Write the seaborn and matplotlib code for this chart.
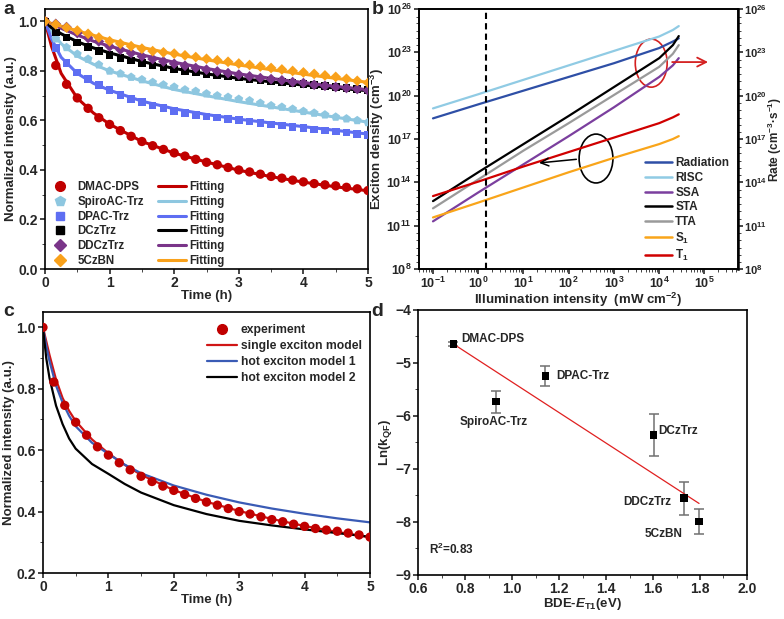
import numpy as np
import matplotlib.pyplot as plt
import seaborn as sns
from matplotlib.lines import Line2D
from matplotlib.patches import Ellipse
from matplotlib.ticker import MultipleLocator, LogLocator, FixedLocator, NullFormatter

# ---------------- panel a: normalized intensity vs time ----------------
time_pts = np.arange(31) / 6
dmac = [1.0, 0.822, 0.746, 0.691, 0.649, 0.611, 0.584, 0.559, 0.536, 0.515, 0.498,
        0.483, 0.469, 0.456, 0.443, 0.431, 0.421, 0.410, 0.400, 0.392, 0.383,
        0.374, 0.367, 0.359, 0.352, 0.345, 0.340, 0.336, 0.330, 0.324, 0.317]
spiro = [1.0, 0.93, 0.895, 0.868, 0.848, 0.825, 0.80, 0.789, 0.775, 0.765, 0.754,
         0.744, 0.735, 0.724, 0.718, 0.708, 0.70, 0.694, 0.686, 0.68, 0.67,
         0.66, 0.654, 0.646, 0.637, 0.63, 0.623, 0.614, 0.607, 0.60, 0.592]
dpac = [1.0, 0.892, 0.832, 0.794, 0.767, 0.744, 0.724, 0.704, 0.686, 0.674, 0.66,
        0.65, 0.639, 0.63, 0.623, 0.616, 0.612, 0.606, 0.603, 0.596, 0.59,
        0.583, 0.579, 0.573, 0.569, 0.563, 0.559, 0.556, 0.552, 0.546, 0.542]
dcz = [1.0, 0.955, 0.935, 0.915, 0.897, 0.88, 0.865, 0.853, 0.842, 0.832, 0.822,
       0.814, 0.806, 0.80, 0.795, 0.788, 0.783, 0.778, 0.773, 0.768, 0.763,
       0.759, 0.755, 0.751, 0.747, 0.743, 0.739, 0.735, 0.731, 0.727, 0.722]
ddcz = [1.0, 0.99, 0.977, 0.953, 0.933, 0.919, 0.899, 0.886, 0.872, 0.859, 0.848,
        0.838, 0.829, 0.821, 0.812, 0.805, 0.798, 0.791, 0.785, 0.778, 0.771,
        0.767, 0.762, 0.755, 0.751, 0.744, 0.74, 0.735, 0.731, 0.727, 0.721]
czbn = [1.0, 0.988, 0.975, 0.963, 0.95, 0.935, 0.92, 0.91, 0.90, 0.89, 0.88,
        0.875, 0.87, 0.863, 0.856, 0.849, 0.843, 0.837, 0.83, 0.824, 0.818,
        0.812, 0.806, 0.80, 0.794, 0.788, 0.782, 0.776, 0.768, 0.76, 0.752]

fit_t = [0, 0.1, 0.25, 0.5, 0.75, 1, 1.5, 2, 2.5, 3, 3.5, 4, 4.5, 5]
fit_dmac = [1.0, 0.90, 0.79, 0.69, 0.63, 0.585, 0.515, 0.468, 0.432, 0.399, 0.373, 0.351, 0.332, 0.316]
fit_spiro = [1.0, 0.96, 0.91, 0.86, 0.827, 0.80, 0.76, 0.725, 0.70, 0.676, 0.655, 0.634, 0.613, 0.593]
fit_dpac = [1.0, 0.93, 0.855, 0.79, 0.75, 0.722, 0.678, 0.647, 0.624, 0.605, 0.59, 0.575, 0.56, 0.545]
fit_dcz = [1.0, 0.975, 0.95, 0.918, 0.893, 0.873, 0.838, 0.81, 0.788, 0.77, 0.756, 0.743, 0.731, 0.72]
fit_ddcz = [1.0, 0.99, 0.972, 0.945, 0.92, 0.9, 0.865, 0.835, 0.81, 0.788, 0.77, 0.753, 0.738, 0.724]
fit_czbn = [1.0, 0.992, 0.981, 0.962, 0.944, 0.926, 0.895, 0.868, 0.845, 0.824, 0.805, 0.787, 0.77, 0.754]

names_a = ["DMAC-DPS", "SpiroAC-Trz", "DPAC-Trz", "DCzTrz", "DDCzTrz", "5CzBN"]
colors_a = ["#C00000", "#8EC7E0", "#5E6EF2", "#000000", "#7A3589", "#F9A11B"]
markers_a = ["o", "p", "s", "s", "D", "D"]

# ---------------- panel b: exciton density / rates (log10 values) ----------------
illum = [0.1, 1, 10, 100, 1e3, 1e4, 2e4, 2.7e4]
log_radiation = [18.43, 19.4, 20.35, 21.3, 22.25, 23.3, 23.75, 23.97]
log_risc = [19.12, 20.1, 21.1, 22.1, 23.1, 24.1, 24.55, 24.82]
log_ssa = [11.3, 13.3, 15.25, 17.2, 19.2, 21.3, 22.1, 22.6]
log_sta = [12.7, 14.7, 16.65, 18.6, 20.6, 22.6, 23.5, 24.13]
log_tta = [12.2, 14.2, 16.2, 18.1, 20.05, 22.0, 22.9, 23.5]
log_s1 = [11.57, 12.6, 13.65, 14.7, 15.7, 16.65, 17.0, 17.2]
log_t1 = [13.05, 14.05, 15.1, 16.1, 17.1, 18.1, 18.5, 18.71]
names_b = ["Radiation", "RISC", "SSA", "STA", "TTA", "S$_1$", "T$_1$"]
colors_b = ["#2E4FA6", "#90CBE4", "#7B3F9E", "#000000", "#9A9A9A", "#F9A51A", "#D00000"]

# ---------------- panel c: model comparison ----------------
c_t = [0, 0.05, 0.1, 0.2, 0.3, 0.4, 0.5, 0.75, 1, 1.25, 1.5, 2, 2.5, 3, 3.5, 4, 4.5, 5]
single_model = [1.0, 0.955, 0.91, 0.83, 0.77, 0.728, 0.695, 0.635, 0.59, 0.552, 0.52,
                0.47, 0.432, 0.402, 0.376, 0.353, 0.334, 0.316]
hot_model1 = [1.0, 0.94, 0.89, 0.81, 0.755, 0.712, 0.678, 0.624, 0.588, 0.553, 0.525,
              0.485, 0.455, 0.43, 0.41, 0.393, 0.378, 0.365]
hot_model2 = [1.0, 0.90, 0.835, 0.745, 0.685, 0.638, 0.605, 0.555, 0.523, 0.49, 0.462,
              0.421, 0.392, 0.37, 0.355, 0.342, 0.33, 0.318]

# ---------------- panel d: Ln(kQF) vs BDE-ET1 ----------------
mol_d = ["DMAC-DPS", "SpiroAC-Trz", "DPAC-Trz", "DCzTrz", "DDCzTrz", "5CzBN"]
bde = [0.75, 0.932, 1.142, 1.603, 1.732, 1.796]
ln_kqf = [-4.64, -5.73, -5.245, -6.36, -7.55, -7.99]
ln_err = [0.03, 0.21, 0.18, 0.40, 0.31, 0.23]
fit_bde = [0.75, 1.796]
fit_ln = [-4.64, -7.65]
label_pos = [(0.786, -4.55), (0.779, -6.12), (1.19, -5.245), (1.623, -6.277), (1.474, -7.63), (1.566, -8.23)]

sns.set_style("ticks")
plt.rcParams["font.family"] = ["Liberation Sans", "DejaVu Sans"]
plt.rcParams["font.weight"] = "bold"
plt.rcParams["axes.labelweight"] = "bold"
plt.rcParams["mathtext.fontset"] = "custom"
plt.rcParams["mathtext.rm"] = "Liberation Sans:bold"
plt.rcParams["mathtext.it"] = "Liberation Sans:italic:bold"
plt.rcParams["mathtext.bf"] = "Liberation Sans:bold"
plt.rcParams["xtick.labelsize"] = 10
plt.rcParams["ytick.labelsize"] = 10
plt.rcParams["axes.labelsize"] = 9.5
plt.rcParams["axes.labelpad"] = 1
plt.rcParams["axes.edgecolor"] = "black"
plt.rcParams["axes.linewidth"] = 1.2
plt.rcParams["xtick.major.width"] = 1.2
plt.rcParams["ytick.major.width"] = 1.2
plt.rcParams["xtick.minor.visible"] = True
plt.rcParams["ytick.minor.visible"] = True
plt.rcParams["xtick.major.size"] = 3.5
plt.rcParams["ytick.major.size"] = 3.5
plt.rcParams["xtick.minor.size"] = 2
plt.rcParams["ytick.minor.size"] = 2
plt.rcParams["xtick.major.pad"] = 1.5
plt.rcParams["ytick.major.pad"] = 1.5

fig = plt.figure(figsize=(7.84, 6.19), dpi=100)
ax_a = fig.add_axes([0.0574, 0.5654, 0.412, 0.42])
ax_b = fig.add_axes([0.5344, 0.5654, 0.4069, 0.42])
ax_c = fig.add_axes([0.0548, 0.0743, 0.4171, 0.4216])
ax_d = fig.add_axes([0.5332, 0.0711, 0.4196, 0.4281])

# ---- a ----
series_a = [dmac, spiro, dpac, dcz, ddcz, czbn]
fits_a = [fit_dmac, fit_spiro, fit_dpac, fit_dcz, fit_ddcz, fit_czbn]
for vals, fit, c, m in zip(series_a, fits_a, colors_a, markers_a):
    sns.lineplot(x=fit_t, y=fit, ax=ax_a, color=c, lw=2.2, legend=False, zorder=2)
    sz = 45 if m in ("o", "p") else 30
    sns.scatterplot(x=time_pts, y=vals, ax=ax_a, color=c, marker=m, s=sz,
                    edgecolor="none", legend=False, zorder=3)
ax_a.set_xlim(0, 5)
ax_a.set_ylim(0, 1.05)
ax_a.xaxis.set_major_locator(MultipleLocator(1))
ax_a.xaxis.set_minor_locator(MultipleLocator(0.5))
ax_a.yaxis.set_major_locator(MultipleLocator(0.2))
ax_a.yaxis.set_minor_locator(MultipleLocator(0.1))
ax_a.set_xlabel("Time (h)", labelpad=0)
ax_a.set_ylabel("Normalized intensity (a.u.)")
h_mark = [Line2D([], [], ls="none", marker=m, color=c, markersize=7 if m in ("o", "p") else 6)
          for m, c in zip(markers_a, colors_a)]
h_line = [Line2D([], [], color=c, lw=2.2) for c in colors_a]
ax_a.legend(h_mark + h_line, names_a + ["Fitting"] * 6, ncol=2, loc="lower left",
            bbox_to_anchor=(-0.01, -0.01), frameon=False, fontsize=8.3,
            labelspacing=0.24, handlelength=2.4, handletextpad=0.3, columnspacing=1.2,
            borderaxespad=0)

# ---- b ----
ax_b.set_xscale("log")
ax_b.set_yscale("log")
for logv, c in zip([log_radiation, log_risc, log_ssa, log_sta, log_tta, log_s1, log_t1], colors_b):
    sns.lineplot(x=illum, y=10 ** np.array(logv), ax=ax_b, color=c, lw=1.6, legend=False)
ax_b.axvline(1.5, color="black", ls="--", lw=1.5, dashes=(3, 2))
ax_b.set_xlim(10 ** -1.31, 10 ** 5.74)
ax_b.set_ylim(1e8, 1e26)
ax_b.xaxis.set_major_locator(LogLocator(base=10, numticks=12))
ax_b.xaxis.set_minor_locator(LogLocator(base=10, subs=np.arange(2, 10), numticks=12))
ax_b.xaxis.set_minor_formatter(NullFormatter())
yt = [1e8, 1e11, 1e14, 1e17, 1e20, 1e23, 1e26]
ax_b.yaxis.set_major_locator(FixedLocator(yt))
ax_b.yaxis.set_minor_locator(LogLocator(base=10, subs=(1.0, 3.0), numticks=30))
ax_b.yaxis.set_minor_formatter(NullFormatter())
ax_b.tick_params(labelsize=9)
ax_b.set_xlabel("Illumination intensity  (mW cm$^{-2}$)", labelpad=0)
ax_b.set_ylabel("Exciton density (cm$^{-3}$)", labelpad=0)
ax_b2 = ax_b.twinx()
ax_b2.set_yscale("log")
ax_b2.set_ylim(1e8, 1e26)
ax_b2.yaxis.set_major_locator(FixedLocator(yt))
ax_b2.yaxis.set_minor_locator(LogLocator(base=10, subs=(1.0, 3.0), numticks=30))
ax_b2.yaxis.set_minor_formatter(NullFormatter())
ax_b2.tick_params(labelsize=8, pad=1)
ax_b2.set_ylabel("Rate (cm$^{-3}$·s$^{-1}$)", fontsize=8.5)
ax_b2.yaxis.set_label_coords(1.088, 0.5)
ax_b2.spines["right"].set_linewidth(1.8)
ax_b.add_patch(Ellipse((0.728, 0.792), 0.1, 0.185, transform=ax_b.transAxes,
                       fill=False, ec="#D42020", lw=1.2))
ax_b.annotate("", xy=(0.915, 0.796), xytext=(0.785, 0.796), xycoords="axes fraction",
              arrowprops=dict(arrowstyle="->", color="#D42020", lw=1.3, mutation_scale=16))
ax_b.add_patch(Ellipse((0.555, 0.425), 0.106, 0.188, transform=ax_b.transAxes,
                       fill=False, ec="black", lw=1.2))
ax_b.annotate("", xy=(0.368, 0.407), xytext=(0.502, 0.423), xycoords="axes fraction",
              arrowprops=dict(arrowstyle="->", color="black", lw=1.1, mutation_scale=14))
h_b = [Line2D([], [], color=c, lw=1.8) for c in colors_b]
ax_b.legend(h_b, names_b, loc="lower right", bbox_to_anchor=(0.995, -0.005), frameon=False,
            fontsize=8.5, labelspacing=0.22, handlelength=2.3, handletextpad=0.3,
            borderaxespad=0.2)

# ---- c ----
sns.lineplot(x=c_t, y=single_model, ax=ax_c, color="#D01515", lw=1.6, legend=False, zorder=2)
sns.lineplot(x=c_t, y=hot_model1, ax=ax_c, color="#3A5BB5", lw=1.6, legend=False, zorder=2)
sns.lineplot(x=c_t, y=hot_model2, ax=ax_c, color="black", lw=1.6, legend=False, zorder=2)
sns.scatterplot(x=time_pts, y=dmac, ax=ax_c, color="#C00000", marker="o", s=45,
                edgecolor="none", legend=False, zorder=3)
ax_c.set_xlim(0, 5)
ax_c.set_ylim(0.2, 1.05)
ax_c.xaxis.set_major_locator(MultipleLocator(1))
ax_c.xaxis.set_minor_locator(MultipleLocator(0.5))
ax_c.yaxis.set_major_locator(MultipleLocator(0.2))
ax_c.yaxis.set_minor_locator(MultipleLocator(0.1))
ax_c.set_xlabel("Time (h)", labelpad=0)
ax_c.set_ylabel("Normalized intensity (a.u.)")
h_c = [Line2D([], [], ls="none", marker="o", color="#C00000", markersize=7),
       Line2D([], [], color="#D01515", lw=1.6),
       Line2D([], [], color="#3A5BB5", lw=1.6),
       Line2D([], [], color="black", lw=1.6)]
ax_c.legend(h_c, ["experiment", "single exciton model", "hot exciton model 1", "hot exciton model 2"],
            loc="upper right", bbox_to_anchor=(1.0, 0.985), frameon=False, fontsize=8.7,
            labelspacing=0.32, handlelength=2.5, handletextpad=0.3, borderaxespad=0.3)

# ---- d ----
ax_d.errorbar(bde, ln_kqf, yerr=ln_err, fmt="none", ecolor="#707070", elinewidth=1.1,
              capsize=3.5, capthick=1.1, zorder=1)
sns.lineplot(x=fit_bde, y=fit_ln, ax=ax_d, color="#E02020", lw=0.9, legend=False, zorder=2)
sns.scatterplot(x=bde, y=ln_kqf, ax=ax_d, color="black", marker="s", s=28,
                edgecolor="none", legend=False, zorder=3)
for name, (px, py) in zip(mol_d, label_pos):
    ax_d.text(px, py, name, fontsize=8.5, fontweight="bold", ha="left", va="center")
ax_d.text(0.648, -8.515, "R$^2$=0.83", fontsize=8.5, fontweight="bold", ha="left", va="center")
ax_d.set_xlim(0.6, 2.0)
ax_d.set_ylim(-9, -4)
ax_d.xaxis.set_major_locator(MultipleLocator(0.2))
ax_d.xaxis.set_minor_locator(MultipleLocator(0.1))
ax_d.yaxis.set_major_locator(MultipleLocator(1))
ax_d.yaxis.set_minor_locator(MultipleLocator(0.5))
ax_d.set_xlabel(r"BDE-$E_\mathregular{T1}$(eV)", labelpad=0)
ax_d.set_ylabel(r"Ln(k$_\mathregular{QF}$)")

for ax in [ax_a, ax_b, ax_c, ax_d]:
    for s in ax.spines.values():
        s.set_visible(True)
        s.set_color("black")

fig.text(0.004, 0.998, "a", fontsize=14, fontweight="bold", ha="left", va="top")
fig.text(0.474, 0.998, "b", fontsize=14, fontweight="bold", ha="left", va="top")
fig.text(0.004, 0.51, "c", fontsize=14, fontweight="bold", ha="left", va="top")
fig.text(0.474, 0.51, "d", fontsize=14, fontweight="bold", ha="left", va="top")

fig.savefig("out.png", dpi=100)
